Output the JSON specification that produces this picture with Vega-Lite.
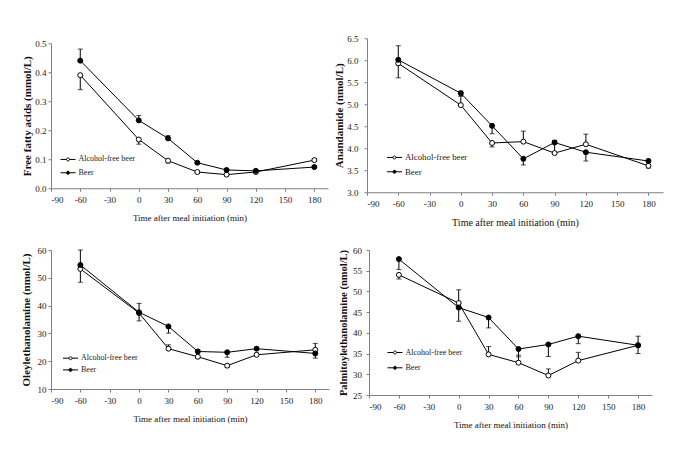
{
  "$schema": "https://vega.github.io/schema/vega-lite/v6.json",
  "padding": {"left": 19, "top": 34, "right": 5, "bottom": 5},
  "background": "white",
  "data": {"values": [
    {"p":"ffa","g":"Alcohol-free beer","t":-60,"v":0.39,"e":0.34},
    {"p":"ffa","g":"Alcohol-free beer","t":0,"v":0.168,"e":0.152},
    {"p":"ffa","g":"Alcohol-free beer","t":30,"v":0.095,"e":0.087},
    {"p":"ffa","g":"Alcohol-free beer","t":60,"v":0.056,"e":0.052},
    {"p":"ffa","g":"Alcohol-free beer","t":90,"v":0.047,"e":0.043},
    {"p":"ffa","g":"Alcohol-free beer","t":120,"v":0.056,"e":0.052},
    {"p":"ffa","g":"Alcohol-free beer","t":180,"v":0.097,"e":0.102},
    {"p":"ffa","g":"Beer","t":-60,"v":0.44,"e":0.48},
    {"p":"ffa","g":"Beer","t":0,"v":0.234,"e":0.251},
    {"p":"ffa","g":"Beer","t":30,"v":0.172,"e":0.181},
    {"p":"ffa","g":"Beer","t":60,"v":0.088,"e":0.092},
    {"p":"ffa","g":"Beer","t":90,"v":0.063,"e":0.066},
    {"p":"ffa","g":"Beer","t":120,"v":0.060,"e":0.063},
    {"p":"ffa","g":"Beer","t":180,"v":0.073,"e":0.078},
    {"p":"aea","g":"Alcohol-free beer","t":-60,"v":5.93,"e":5.60},
    {"p":"aea","g":"Alcohol-free beer","t":0,"v":4.98,"e":5.18},
    {"p":"aea","g":"Alcohol-free beer","t":30,"v":4.12,"e":4.03},
    {"p":"aea","g":"Alcohol-free beer","t":60,"v":4.15,"e":4.39},
    {"p":"aea","g":"Alcohol-free beer","t":90,"v":3.89,"e":4.17},
    {"p":"aea","g":"Alcohol-free beer","t":120,"v":4.09,"e":4.32},
    {"p":"aea","g":"Alcohol-free beer","t":180,"v":3.60,"e":3.55},
    {"p":"aea","g":"Beer","t":-60,"v":6.01,"e":6.33},
    {"p":"aea","g":"Beer","t":0,"v":5.25,"e":5.30},
    {"p":"aea","g":"Beer","t":30,"v":4.51,"e":4.33},
    {"p":"aea","g":"Beer","t":60,"v":3.76,"e":3.62},
    {"p":"aea","g":"Beer","t":90,"v":4.13,"e":4.18},
    {"p":"aea","g":"Beer","t":120,"v":3.91,"e":3.71},
    {"p":"aea","g":"Beer","t":180,"v":3.71,"e":3.75},
    {"p":"oea","g":"Alcohol-free beer","t":-60,"v":53.2,"e":48.4},
    {"p":"oea","g":"Alcohol-free beer","t":0,"v":37.3,"e":34.5},
    {"p":"oea","g":"Alcohol-free beer","t":30,"v":24.5,"e":25.9},
    {"p":"oea","g":"Alcohol-free beer","t":60,"v":21.6,"e":21.0},
    {"p":"oea","g":"Alcohol-free beer","t":90,"v":18.4,"e":17.8},
    {"p":"oea","g":"Alcohol-free beer","t":120,"v":22.3,"e":22.9},
    {"p":"oea","g":"Alcohol-free beer","t":180,"v":24.1,"e":26.4},
    {"p":"oea","g":"Beer","t":-60,"v":54.6,"e":60.0},
    {"p":"oea","g":"Beer","t":0,"v":37.6,"e":40.8},
    {"p":"oea","g":"Beer","t":30,"v":32.5,"e":30.1},
    {"p":"oea","g":"Beer","t":60,"v":23.5,"e":24.0},
    {"p":"oea","g":"Beer","t":90,"v":23.2,"e":21.4},
    {"p":"oea","g":"Beer","t":120,"v":24.5,"e":25.0},
    {"p":"oea","g":"Beer","t":180,"v":22.8,"e":21.1},
    {"p":"pea","g":"Alcohol-free beer","t":-60,"v":54.0,"e":53.0},
    {"p":"pea","g":"Alcohol-free beer","t":0,"v":47.2,"e":50.4},
    {"p":"pea","g":"Alcohol-free beer","t":30,"v":34.8,"e":36.7},
    {"p":"pea","g":"Alcohol-free beer","t":60,"v":32.8,"e":34.6},
    {"p":"pea","g":"Alcohol-free beer","t":90,"v":29.7,"e":31.3},
    {"p":"pea","g":"Alcohol-free beer","t":120,"v":33.3,"e":35.3},
    {"p":"pea","g":"Alcohol-free beer","t":180,"v":37.0,"e":35.0},
    {"p":"pea","g":"Beer","t":-60,"v":57.8,"e":55.3},
    {"p":"pea","g":"Beer","t":0,"v":46.1,"e":42.8},
    {"p":"pea","g":"Beer","t":30,"v":43.7,"e":41.2},
    {"p":"pea","g":"Beer","t":60,"v":36.1,"e":34.2},
    {"p":"pea","g":"Beer","t":90,"v":37.2,"e":34.3},
    {"p":"pea","g":"Beer","t":120,"v":39.2,"e":37.4},
    {"p":"pea","g":"Beer","t":180,"v":37.0,"e":39.2}
  ]},
  "spacing": 18,
  "resolve": {"scale": {"x": "independent", "y": "independent", "fill": "independent"}, "legend": {"fill": "independent"}, "axis": {"x": "independent", "y": "independent"}},
  "vconcat": [
    {
      "spacing": 5,
      "center": true,
      "resolve": {"scale": {"x": "independent", "y": "independent", "fill": "independent"}, "legend": {"fill": "independent"}, "axis": {"x": "independent", "y": "independent"}},
      "hconcat": [
        {
          "width": 277, "height": 145,
          "transform": [{"filter": "datum.p === 'ffa'"}],
          "encoding": {
            "x": {"field": "t", "type": "quantitative", "scale": {"domain": [-90, 194], "nice": false, "zero": false},
                  "axis": {"values": [-90,-60,-30,0,30,60,90,120,150,180], "title": "Time after meal initiation (min)"}},
            "y": {"field": "v", "type": "quantitative", "title": "Free fatty acids (mmol/L)", "scale": {"domain": [0, 0.5], "nice": false},
                  "axis": {"values": [0,0.1,0.2,0.3,0.4,0.5], "format": ".1f", "labelPadding": 2, "titlePadding": 2}}
          },
          "layer": [
            {"mark": {"type": "rule", "color": "black", "strokeWidth": 1}, "encoding": {"y2": {"field": "e"}}},
            {"mark": {"type": "tick", "orient": "horizontal", "color": "black", "size": 5, "thickness": 1}, "encoding": {"y": {"field": "e", "type": "quantitative", "title": "Free fatty acids (mmol/L)"}}},
            {"mark": {"type": "line", "color": "black", "strokeWidth": 1}, "encoding": {"detail": {"field": "g"}}},
            {"mark": {"type": "point", "shape": "circle", "filled": true, "stroke": "black", "strokeWidth": 1, "size": 25, "opacity": 1},
             "encoding": {"fill": {"field": "g", "type": "nominal", "scale": {"domain": ["Alcohol-free beer", "Beer"], "range": ["white", "black"]},
                                   "legend": {"title": null, "legendX": 11.5, "legendY": 110.7, "rowPadding": 3.3}}}}
          ]
        },
        {
          "width": 296, "height": 154,
          "transform": [{"filter": "datum.p === 'aea'"}],
          "encoding": {
            "x": {"field": "t", "type": "quantitative", "scale": {"domain": [-90, 194], "nice": false, "zero": false},
                  "axis": {"values": [-90,-60,-30,0,30,60,90,120,150,180], "title": "Time after meal initiation (min)", "titleFontSize": 10}},
            "y": {"field": "v", "type": "quantitative", "title": "Anandamide (nmol/L)", "scale": {"domain": [3, 6.5], "nice": false, "zero": false},
                  "axis": {"values": [3,3.5,4,4.5,5,5.5,6,6.5], "format": ".1f", "labelPadding": 6, "titlePadding": 2}}
          },
          "layer": [
            {"mark": {"type": "rule", "color": "black", "strokeWidth": 1}, "encoding": {"y2": {"field": "e"}}},
            {"mark": {"type": "tick", "orient": "horizontal", "color": "black", "size": 5, "thickness": 1}, "encoding": {"y": {"field": "e", "type": "quantitative", "title": "Anandamide (nmol/L)"}}},
            {"mark": {"type": "line", "color": "black", "strokeWidth": 1}, "encoding": {"detail": {"field": "g"}}},
            {"mark": {"type": "point", "shape": "circle", "filled": true, "stroke": "black", "strokeWidth": 1, "size": 25, "opacity": 1},
             "encoding": {"fill": {"field": "g", "type": "nominal", "scale": {"domain": ["Alcohol-free beer", "Beer"], "range": ["white", "black"]},
                                   "legend": {"title": null, "legendX": 22, "legendY": 113.7, "rowPadding": 3.3, "labelFontSize": 8.8}}}}
          ]
        }
      ]
    },
    {
      "spacing": 8,
      "resolve": {"scale": {"x": "independent", "y": "independent", "fill": "independent"}, "legend": {"fill": "independent"}, "axis": {"x": "independent", "y": "independent"}},
      "hconcat": [
        {
          "width": 278, "height": 139,
          "transform": [{"filter": "datum.p === 'oea'"}],
          "encoding": {
            "x": {"field": "t", "type": "quantitative", "scale": {"domain": [-90, 194], "nice": false, "zero": false},
                  "axis": {"values": [-90,-60,-30,0,30,60,90,120,150,180], "title": "Time after meal initiation (min)"}},
            "y": {"field": "v", "type": "quantitative", "title": "Oleylethanolamine (nmol/L)", "scale": {"domain": [10, 60], "nice": false, "zero": false},
                  "axis": {"values": [10,20,30,40,50,60], "labelPadding": 2, "titlePadding": 6}}
          },
          "layer": [
            {"mark": {"type": "rule", "color": "black", "strokeWidth": 1}, "encoding": {"y2": {"field": "e"}}},
            {"mark": {"type": "tick", "orient": "horizontal", "color": "black", "size": 5, "thickness": 1}, "encoding": {"y": {"field": "e", "type": "quantitative", "title": "Oleylethanolamine (nmol/L)"}}},
            {"mark": {"type": "line", "color": "black", "strokeWidth": 1}, "encoding": {"detail": {"field": "g"}}},
            {"mark": {"type": "point", "shape": "circle", "filled": true, "stroke": "black", "strokeWidth": 1, "size": 25, "opacity": 1},
             "encoding": {"fill": {"field": "g", "type": "nominal", "scale": {"domain": ["Alcohol-free beer", "Beer"], "range": ["white", "black"]},
                                   "legend": {"title": null, "legendX": 14, "legendY": 102.7, "rowPadding": 1.7}}}}
          ]
        },
        {
          "width": 283, "height": 145,
          "transform": [{"filter": "datum.p === 'pea'"}],
          "encoding": {
            "x": {"field": "t", "type": "quantitative", "scale": {"domain": [-90, 194], "nice": false, "zero": false},
                  "axis": {"values": [-90,-60,-30,0,30,60,90,120,150,180], "title": "Time after meal initiation (min)"}},
            "y": {"field": "v", "type": "quantitative", "title": "Palmitoylethanolamine (nmol/L)", "scale": {"domain": [25, 60], "nice": false, "zero": false},
                  "axis": {"values": [25,30,35,40,45,50,55,60], "labelPadding": 4.5, "titlePadding": 4.5, "titleFontSize": 10.5}}
          },
          "layer": [
            {"mark": {"type": "rule", "color": "black", "strokeWidth": 1}, "encoding": {"y2": {"field": "e"}}},
            {"mark": {"type": "tick", "orient": "horizontal", "color": "black", "size": 5, "thickness": 1}, "encoding": {"y": {"field": "e", "type": "quantitative", "title": "Palmitoylethanolamine (nmol/L)"}}},
            {"mark": {"type": "line", "color": "black", "strokeWidth": 1}, "encoding": {"detail": {"field": "g"}}},
            {"mark": {"type": "point", "shape": "circle", "filled": true, "stroke": "black", "strokeWidth": 1, "size": 25, "opacity": 1},
             "encoding": {"fill": {"field": "g", "type": "nominal", "scale": {"domain": ["Alcohol-free beer", "Beer"], "range": ["white", "black"]},
                                   "legend": {"title": null, "legendX": 20.5, "legendY": 97, "rowPadding": 5.3}}}}
          ]
        }
      ]
    }
  ],
  "config": {
    "font": "Liberation Serif",
    "view": {"stroke": null},
    "axis": {"grid": false, "domainColor": "#808080", "tickColor": "#808080", "tickSize": 3, "labelColor": "#222222", "titleColor": "#111111", "labelFontSize": 9, "titleFontWeight": "normal"},
    "axisY": {"titleFontWeight": "bold", "titleFontSize": 11},
    "axisX": {"titleFontSize": 9, "labelPadding": 4.5, "titlePadding": 9, "labelExpr": "datum.value < 0 ? '-' + abs(datum.value) : datum.label"},
    "legend": {"orient": "none", "symbolType": "M-1.5,0L-0.3,0M0.3,0L1.5,0M-0.3,0A0.3,0.3,0,1,1,0.3,0A0.3,0.3,0,1,1,-0.3,0Z", "symbolSize": 100, "symbolStrokeColor": "black", "symbolStrokeWidth": 1, "labelFontSize": 8, "labelColor": "#222222", "labelOffset": 5, "padding": 0}
  }
}
